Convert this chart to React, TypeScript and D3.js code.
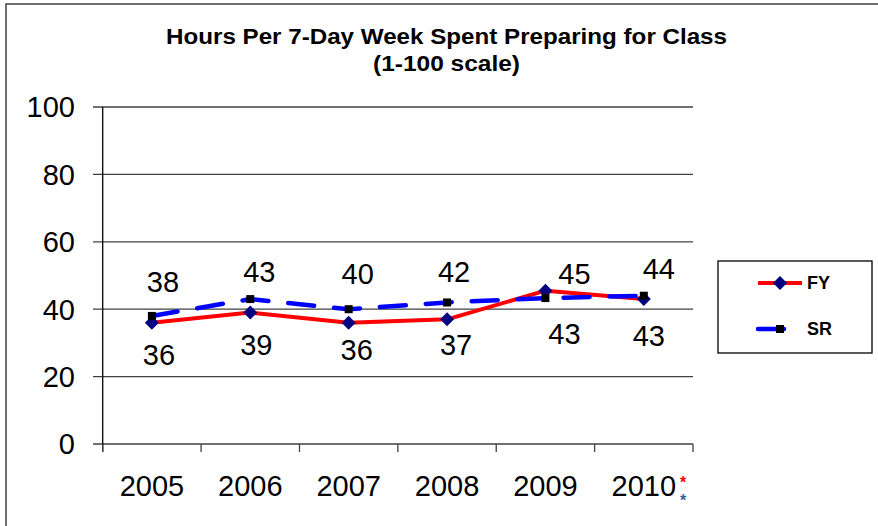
import React from "react";
import * as d3 from "d3";

const years = ["2005", "2006", "2007", "2008", "2009", "2010"];
const fyValues = [36, 39, 36, 37, 45.5, 43];
const srValues = [38, 43, 40, 42, 43.3, 44];
const fyLabels = ["36", "39", "36", "37", "45", "43"];
const srLabels = ["38", "43", "40", "42", "43", "44"];
const yTicks = [0, 20, 40, 60, 80, 100];
const titleLines = ["Hours Per 7-Day Week Spent Preparing for Class", "(1-100 scale)"];
const markedYear = "2010";

// label placement (layout only): offsets from the point to the label centre
const fyLabelOffset: [number, number][] = [[7, 32], [6, 32], [8, 27], [9, 25], [29, -17], [5, 37]];
const srLabelOffset: [number, number][] = [[11, -34], [9, -27], [9, -36], [7, -31], [19, 36], [15, -27]];
const titleWidths = [561, 147];

const W = 878;
const H = 526;
const FONT = "'Liberation Sans', Arial, sans-serif";

export default function App() {
  const x = d3.scaleBand<string>().domain(years).range([102.7, 693]).padding(0);
  const y = d3.scaleLinear().domain([0, 100]).range([444, 107]);
  const cx = (d: string) => (x(d) as number) + x.bandwidth() / 2;

  const line = d3
    .line<number>()
    .x((_, i) => cx(years[i]))
    .y((v) => y(v));

  const fs = 29;
  const digitCenter = 0.358 * fs;

  const diamond = (px: number, py: number, r: number) =>
    `M${px},${py - r}L${px + r},${py}L${px},${py + r}L${px - r},${py}Z`;

  const srDash = "26 20";

  return (
    <svg
      width={W}
      height={H}
      style={{ position: "absolute", left: 0, top: 0, background: "#fff" }}
      fontFamily={FONT}
    >
      <rect x={0} y={0} width={W} height={H} fill="#fff" />
      {/* outer border */}
      <rect x={6} y={4} width={W + 40} height={H + 40} fill="none" stroke="#404040" strokeWidth={1.5} />

      {/* title */}
      {titleLines.map((t, i) => (
        <text
          key={i}
          x={446.5}
          y={44 + i * 27}
          textAnchor="middle"
          fontWeight="bold"
          fontSize={21.5}
          textLength={titleWidths[i]}
          lengthAdjust="spacingAndGlyphs"
          fill="#000"
        >
          {t}
        </text>
      ))}

      {/* gridlines and y tick labels */}
      {yTicks.map((t) => (
        <g key={t}>
          <line x1={93} x2={693} y1={y(t)} y2={y(t)} stroke="#404040" strokeWidth={1.3} />
          <text x={75} y={y(t) + digitCenter} textAnchor="end" fontSize={fs} fill="#000">
            {t}
          </text>
        </g>
      ))}

      {/* y axis */}
      <line x1={102.7} x2={102.7} y1={107} y2={452} stroke="#000" strokeWidth={1.3} />
      {/* x ticks */}
      {[...years.map((d) => x(d) as number), 693].map((px, i) => (
        <line key={i} x1={px} x2={px} y1={444} y2={452} stroke="#404040" strokeWidth={1.3} />
      ))}
      {/* x labels */}
      {years.map((d) => (
        <text key={d} x={cx(d)} y={496} textAnchor="middle" fontSize={fs} fill="#000">
          {d}
        </text>
      ))}
      <text x={683} y={487.5} textAnchor="middle" fontSize={16} fontWeight="bold" fill="#ff0000">
        *
      </text>
      <text x={683} y={505.5} textAnchor="middle" fontSize={16} fontWeight="bold" fill="#3a5f9f">
        *
      </text>

      {/* FY series */}
      <path d={line(fyValues) || ""} fill="none" stroke="#ff0000" strokeWidth={4} strokeLinejoin="round" />
      {fyValues.map((v, i) => (
        <path key={i} d={diamond(cx(years[i]), y(v), 7)} fill="#000080" />
      ))}

      {/* SR series */}
      <path
        d={line(srValues) || ""}
        fill="none"
        stroke="#0000ff"
        strokeWidth={4.5}
        strokeDasharray={srDash}
        strokeLinecap="round"
        strokeLinejoin="round"
      />
      {srValues.map((v, i) => (
        <rect key={i} x={cx(years[i]) - 4} y={y(v) - 4} width={8} height={8} fill="#000" />
      ))}

      {/* data labels */}
      {fyValues.map((v, i) => (
        <text
          key={"fy" + i}
          x={cx(years[i]) + fyLabelOffset[i][0]}
          y={y(v) + fyLabelOffset[i][1] + digitCenter}
          textAnchor="middle"
          fontSize={fs}
          fill="#000"
        >
          {fyLabels[i]}
        </text>
      ))}
      {srValues.map((v, i) => (
        <text
          key={"sr" + i}
          x={cx(years[i]) + srLabelOffset[i][0]}
          y={y(v) + srLabelOffset[i][1] + digitCenter}
          textAnchor="middle"
          fontSize={fs}
          fill="#000"
        >
          {srLabels[i]}
        </text>
      ))}

      {/* legend */}
      <rect x={718} y={261} width={154} height={92} fill="#fff" stroke="#000" strokeWidth={1.3} />
      <line x1={758} x2={802} y1={283} y2={283} stroke="#ff0000" strokeWidth={4} />
      <path d={diamond(780, 283, 7)} fill="#000080" />
      <text x={807} y={283 + 0.358 * 18} fontSize={18} fontWeight="bold" fill="#000">
        FY
      </text>
      <line
        x1={758}
        x2={802}
        y1={329}
        y2={329}
        stroke="#0000ff"
        strokeWidth={4.5}
        strokeDasharray={srDash}
        strokeLinecap="round"
      />
      <rect x={776} y={325} width={8} height={8} fill="#000" />
      <text x={807} y={329 + 0.358 * 18} fontSize={18} fontWeight="bold" fill="#000">
        SR
      </text>
    </svg>
  );
}
